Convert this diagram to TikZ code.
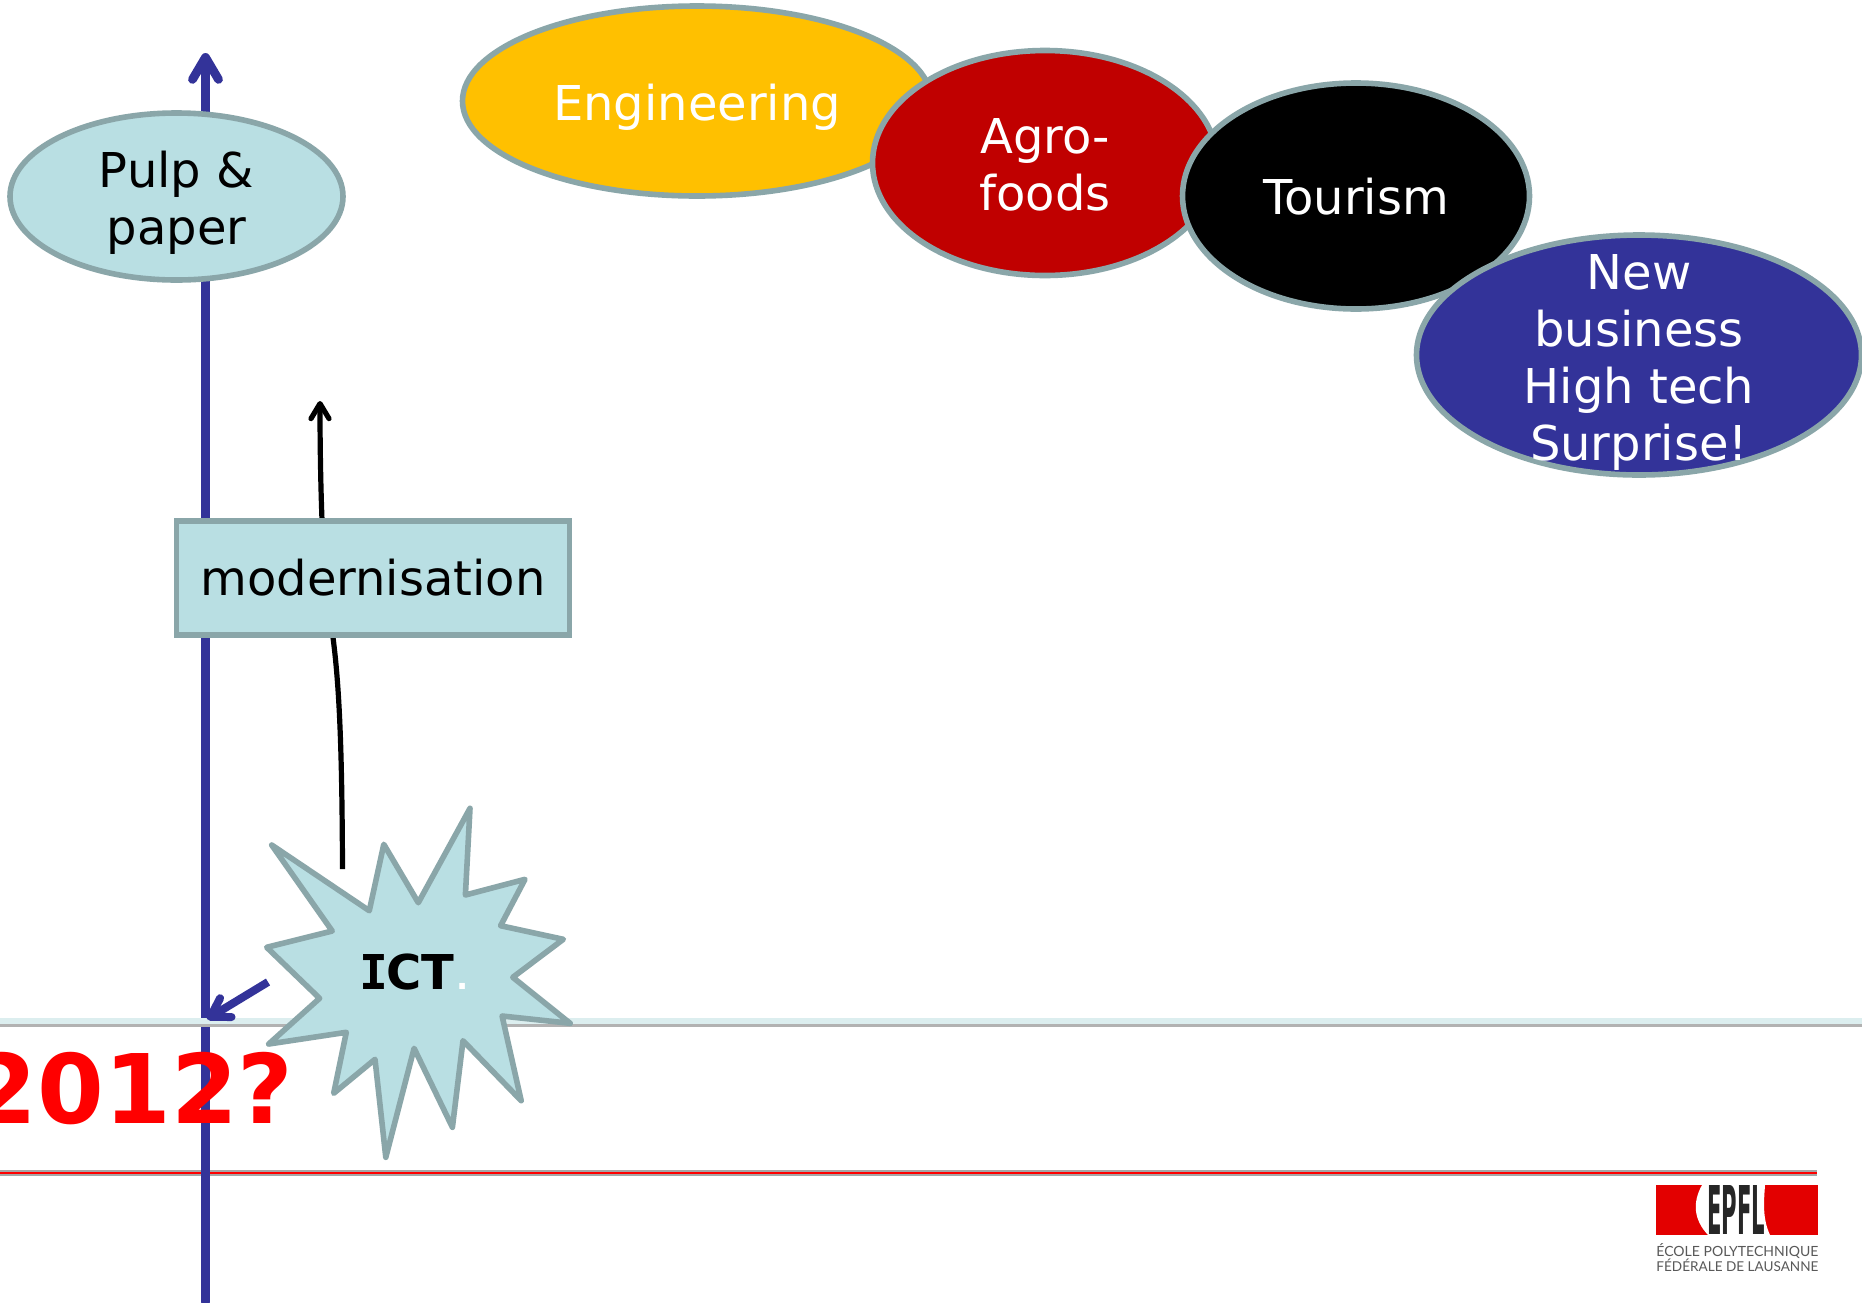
\documentclass[tikz,border=0pt]{standalone}
\usepackage{fontspec}
\setmainfont{DejaVu Sans}
\newfontfamily\logofont{Lato}
\newfontfamily\ictfont{DejaVu Sans Mono}
\usetikzlibrary{arrows.meta,shapes.geometric}
\definecolor{edgegray}{HTML}{8AA6A9}
\definecolor{paleteal}{HTML}{B9DFE3}
\definecolor{bandteal}{HTML}{DCEEEF}
\definecolor{deepblue}{HTML}{333399}
\definecolor{amber}{HTML}{FFC000}
\definecolor{darkred}{HTML}{C00000}
\definecolor{logored}{HTML}{E30000}
\definecolor{pureRed}{HTML}{FF0000}
\tikzset{
  blob/.style={ellipse,draw=edgegray,line width=2.8pt,inner sep=0pt,align=center,font=\fontsize{24}{28.6}\selectfont},
  blobtext/.style={inner sep=0pt,align=center,font=\fontsize{24}{28.6}\selectfont},
  whitetext/.style={text=white},
  bluerule/.style={draw=deepblue,line width=4.4pt},
}
\begin{document}
\begin{tikzpicture}[x=0.5pt,y=-0.5pt]
\useasboundingbox (0,0) rectangle (1862,1302);
\fill[white] (0,0) rectangle (1862,1302);
\begin{scope}
\clip (0,0) rectangle (1862,1302);
% lower rule
\coordinate (rl) at (0,1173); \coordinate (rr) at (1817,1173);
\draw[draw=black!35,line width=2.8pt] (rl) -- (rr);
\draw[draw=pureRed,line width=1.1pt] (rl) -- (rr);
% vertical axis
\coordinate (axisB) at (205.5,1302); \coordinate (axisT) at (205.5,53);
\draw[bluerule,-{Straight Barb[length=11pt,width=13pt,round]},line cap=round] (axisB) -- (axisT);
% upper rule
\coordinate (hl) at (0,1020.5); \coordinate (hr) at (1862,1020.5);
\draw[draw=black!30,line width=1.6pt] ([yshift=-2.2pt]hl) -- ([yshift=-2.2pt]hr);
\draw[draw=bandteal,line width=3pt] (hl) -- (hr);
% small arrow
\coordinate (smallA) at (268,982); \coordinate (smallB) at (207,1019);
\draw[draw=deepblue,line width=4pt,-{Straight Barb[length=9pt,width=11pt,round]}] (smallA) -- (smallB);
% black arrow
\coordinate (curveA) at (342.5,869); \coordinate (curveB) at (320,401);
\draw[black,line width=2.6pt,-{Straight Barb[length=7.5pt,width=9pt,round]}] (curveA) .. controls (342,740) and (339,680) .. (332,630) -- (322,520) .. controls (320.5,480) and (320,440) .. (curveB);
% ellipses
\node[blob,fill=amber,minimum width=234.5pt,minimum height=95pt] (eng) at (697,101) {};
\node[blobtext,whitetext] (engt) at (eng.center) [yshift=-3pt] {Engineering};
\node[blob,fill=darkred,minimum width=172.5pt,minimum height=112.5pt] (agro) at (1045,163) {};
\node[blobtext,whitetext] (agrot) at (agro.center) [yshift=-1pt] {Agro-\\foods};
\node[blob,fill=black,minimum width=173.5pt,minimum height=113pt] (tour) at (1356,196) {};
\node[blobtext,whitetext] (tourt) at (tour.center) [yshift=-0.5pt] {Tourism};
\node[blob,fill=deepblue,minimum width=222.5pt,minimum height=120pt] (newb) at (1639,355) {};
\node[blobtext,whitetext] (newt) at (newb.center) [yshift=-3.7pt] {New\\business\\High tech\\Surprise!};
\node[blob,fill=paleteal,minimum width=166.5pt,minimum height=83.5pt] (pulp) at (176.5,196.5) {};
\node[blobtext] (pulpt) at (pulp.center) [yshift=-3pt] {Pulp \&\\paper};
\node[draw=edgegray,fill=paleteal,line width=2.7pt,minimum width=196.5pt,minimum height=57pt,inner sep=0pt,font=\fontsize{24}{28.6}\selectfont] (mod) at (373,578) {modernisation};
% star
\filldraw[draw=edgegray,fill=paleteal,line width=2.8pt,line join=round]
 (271.7,845)--(369.3,910.7)--(383.8,844.3)--(418.3,902.7)--(470,808.3)--(465.4,895)--(525,879.3)--(500.6,925.7)--(563.3,939.3)--(512.8,977.3)--(570.2,1023.3)--(502.1,1016)--(521.2,1100.7)--(463,1040.7)--(452.4,1127.3)--(414.1,1048.3)--(385.8,1157.3)--(375,1059.3)--(333.7,1093.3)--(346.3,1032.3)--(268.7,1044)--(319.6,998.3)--(266.7,947.3)--(332.2,931)--cycle;
\node[inner sep=0pt,anchor=base west,font=\bfseries\fontsize{24}{28}\selectfont] (ict) at (359,989) {{\ictfont\bfseries I}\kern-1pt CT\kern1pt\textcolor{white}{\fontsize{16}{18}\selectfont .}};
% year
\node[inner sep=0pt,anchor=base east,text=pureRed,font=\bfseries\fontsize{48}{56}\selectfont] (year) at (294,1123) {2012?};
% logo
\fill[logored] (1656,1185) rectangle (1818,1235);
\fill[white] (1702,1185) .. controls (1692,1203) and (1694,1220) .. (1708,1235) -- (1770,1235) .. controls (1762,1218) and (1764,1200) .. (1765,1185) -- cycle;
\node[inner sep=0pt,text=black!85] (logoE) at (1736,1210) {\resizebox{29pt}{24.5pt}{\bfseries EPFL}};
\node[inner sep=0pt,anchor=base west,text=black!65] (logoA) at (1656,1256) {\resizebox{81pt}{!}{\logofont ÉCOLE POLYTECHNIQUE}};
\node[inner sep=0pt,anchor=base west,text=black!65] (logoB) at (1656,1271) {\resizebox{81pt}{!}{\logofont FÉDÉRALE DE LAUSANNE}};
\end{scope}
\end{tikzpicture}
\end{document}
